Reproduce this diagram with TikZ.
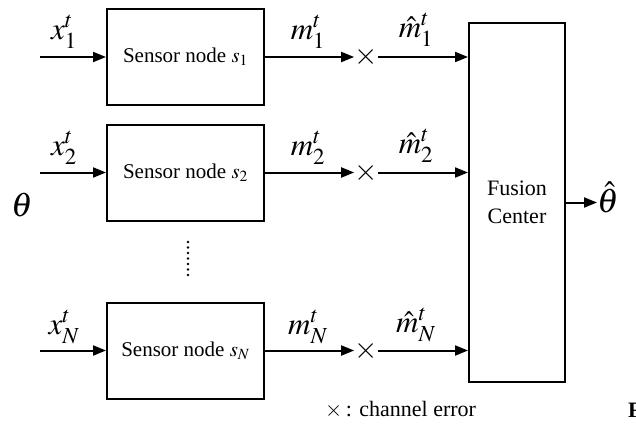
\documentclass[tikz,border=0pt]{standalone}
\usepackage{mathptmx}
\usepackage[no-math]{fontspec}
\setmainfont{Liberation Serif}
\usetikzlibrary{arrows.meta,calc}
\tikzset{
  box/.style={draw,line width=2pt,minimum width=157pt,minimum height=96pt,inner sep=0pt,font=\fontsize{21}{25}\selectfont},
  fcbox/.style={draw,line width=2pt,minimum width=96pt,minimum height=359pt,inner sep=0pt,align=center,font=\fontsize{22}{28}\selectfont},
  arr/.style={line width=2pt,-{Triangle[length=13pt,width=10pt]}},
  lab/.style={font=\fontsize{31}{33}\selectfont,inner sep=0pt},
  txt/.style={font=\fontsize{22}{25}\selectfont,inner sep=0pt},
  crs/.style={font=\fontsize{30}{32}\selectfont,inner sep=0pt}
}
\begin{document}
\begin{tikzpicture}[x=1pt,y=-1pt]
\useasboundingbox (0,0) rectangle (636,425);
% sensor boxes
\node[box] (s1) at (185.5,57) {Sensor node $s_1$};
\node[box] (s2) at (185.5,172.5) {Sensor node $s_2$};
\node[box] (sN) at (185.5,350.5) {Sensor node $s_N$};
% fusion center
\node[fcbox] (fc) at (517,202.5) {Fusion\\Center};
% input starts
\coordinate (i1) at (40,57);
\coordinate (i2) at (40,172.5);
\coordinate (iN) at (40,350.5);
% crosses
\node[crs] (c1) at (366,57) {$\times$};
\node[crs] (c2) at (366,172.5) {$\times$};
\node[crs] (cN) at (366,350.5) {$\times$};
% arrows
\draw[arr] (i1) -- (s1.west);
\draw[arr] (i2) -- (s2.west);
\draw[arr] (iN) -- (sN.west);
\draw[arr] (s1.east) -- (c1.west);
\draw[arr] (s2.east) -- (c2.west);
\draw[arr] (sN.east) -- (cN.west);
\draw[arr] (c1.east) -- (c1 -| fc.west);
\draw[arr] (c2.east) -- (c2 -| fc.west);
\draw[arr] (cN.east) -- (cN -| fc.west);
% labels
\node[lab] (x1) at (64,32) {$x_1^t$};
\node[lab] (x2) at (64,148) {$x_2^t$};
\node[lab] (xN) at (64,327) {$x_N^t$};
\node[lab] (m1) at (308,32) {$m_1^t$};
\node[lab] (m2) at (308,148) {$m_2^t$};
\node[lab] (mN) at (308,327) {$m_N^t$};
\node[lab] (h1) at (416,30) {$\hat{m}_1^t$};
\node[lab] (h2) at (416,146) {$\hat{m}_2^t$};
\node[lab] (hN) at (416,325) {$\hat{m}_N^t$};
% theta
\node[lab,font=\fontsize{34}{36}\selectfont] (th) at (22,205) {$\theta$};
\node[lab,font=\fontsize{34}{36}\selectfont,anchor=west] (thh) at (597,197) {$\hat{\theta}$};
\draw[arr] (fc.east) -- (thh.west |- fc.east);
% vertical dots
\foreach \yy in {242,247.5,253,258.5,264,269.5,275}
  \fill (188,\yy) circle (1.4pt);
% legend
\node[txt,anchor=west] (leg) at (325,410) {$\times$\,: channel error};
\node[txt,anchor=west,font=\fontsize{22}{25}\selectfont\bfseries] (F) at (628,410) {F};
\end{tikzpicture}
\end{document}
